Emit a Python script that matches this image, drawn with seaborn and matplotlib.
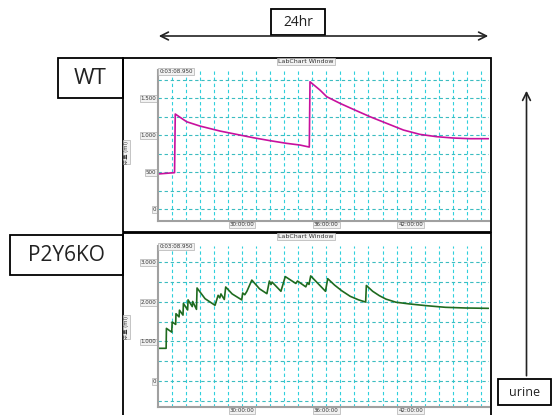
import pandas as pd
import matplotlib.pyplot as plt
import matplotlib.ticker as mticker
from matplotlib.patches import Rectangle
import seaborn as sns

# WT urine volume trace (hours, ml)
wt_hours = [24.0, 25.2, 25.25, 26.06, 27.0, 28.44, 29.62, 30.81, 32.0, 33.18, 34.13, 34.79,
            34.84, 35.55, 36.03, 36.98, 37.93, 39.11, 40.3, 41.49, 42.67, 43.86, 45.04, 46.23, 47.55]
wt_values = [477, 495, 1287, 1183, 1125, 1057, 1012, 967, 927, 891, 868, 841,
             1723, 1611, 1521, 1431, 1350, 1251, 1161, 1071, 1012, 981, 963, 954, 954]

# P2Y6KO urine volume trace (hours, ml)
ko_hours = [24.05, 24.6, 24.62, 25.0, 25.03, 25.28, 25.3, 25.52, 25.55, 25.8, 25.83, 26.13,
            26.16, 26.46, 26.49, 26.76, 26.8, 27.37, 28.08, 28.3, 28.42, 28.5, 28.74, 28.84,
            29.3, 29.98, 30.05, 30.2, 30.35, 30.7, 31.25, 31.77, 31.95, 32.07, 32.14, 32.77,
            33.08, 33.83, 33.95, 34.54, 34.66, 34.77, 34.89, 35.94, 36.1, 36.6, 37.1, 37.7,
            38.3, 38.8, 38.85, 39.3, 39.78, 40.25, 40.95, 41.9, 43.07, 44.48, 45.9, 47.55]
ko_values = [826, 826, 1330, 1235, 1490, 1430, 1700, 1620, 1790, 1665, 1960, 1795,
             2050, 1880, 2010, 1810, 2350, 2080, 1913, 2165, 2100, 2200, 2060, 2375,
             2200, 2050, 2224, 2180, 2267, 2550, 2328, 2207, 2526, 2440, 2500, 2267,
             2638, 2465, 2526, 2379, 2483, 2440, 2655, 2267, 2586, 2420, 2280, 2140,
             2050, 1995, 2414, 2267, 2155, 2069, 1991, 1948, 1905, 1862, 1845, 1836]

x_labels = ["30:00:00", "36:00:00", "42:00:00"]
x_label_pos = [30, 36, 42]

sns.set_theme(style="white")
plt.rcParams['font.family'] = ['DejaVu Sans', 'Noto Sans CJK JP']

W, H = 553, 415
fig = plt.figure(figsize=(W / 100, H / 100), dpi=100)


def px_axes(x0, y0, x1, y1):
    return fig.add_axes([x0 / W, 1 - y1 / H, (x1 - x0) / W, (y1 - y0) / H])


small_box = dict(boxstyle="square,pad=0.15", fc="#f2f2f2", ec="#b0b0b0", lw=0.5)

panels = [
    (px_axes(157.7, 70, 489, 221), wt_hours, wt_values, "#c8109e", (-158, 1882), 500, 250),
    (px_axes(157.7, 246, 489, 406.7), ko_hours, ko_values, "#1f6b1f", (-649, 3411), 1000, 500),
]

for ax, hrs, vals, color, ylim, major, minor in panels:
    df = pd.DataFrame({"hour": hrs, "volume": vals})
    sns.lineplot(data=df, x="hour", y="volume", ax=ax, color=color, lw=1.2,
                 estimator=None, sort=False)
    ax.set_xlim(24, 47.58)
    ax.set_ylim(*ylim)
    ax.set_xticks(x_label_pos)
    ax.set_xticklabels(x_labels)
    ax.set_xticks(range(25, 48), minor=True)
    ax.yaxis.set_major_locator(mticker.MultipleLocator(major))
    ax.yaxis.set_minor_locator(mticker.MultipleLocator(minor))
    ax.yaxis.set_major_formatter(mticker.FuncFormatter(
        lambda v, p: f"{v:,.0f}".replace(",", ".") if v >= 0 else ""))
    for which in ["major", "minor"]:
        ax.xaxis.grid(True, which=which, color="#2fd0dc", lw=0.8, ls=(0, (3, 2.5)))
        ax.yaxis.grid(True, which=which, color="#3cbcc0", lw=0.8, ls=(0, (3, 2.5)))
    ax.set_xlabel("")
    ax.set_ylabel("")
    ax.set_facecolor("white")
    for s in ["top", "right"]:
        ax.spines[s].set_visible(False)
    for s in ["left", "bottom"]:
        ax.spines[s].set_color("#a0a0a0")
        ax.spines[s].set_linewidth(1.5)
    ax.tick_params(which="both", length=0, labelsize=4, pad=1, colors="#333333")
    for lab in ax.get_xticklabels() + ax.get_yticklabels():
        lab.set_bbox(small_box)

# overlay in pixel coordinates for boxes, labels and arrows (drawn on top)
ov = fig.add_axes([0, 0, 1, 1])
ov.set_zorder(10)
ov.set_xlim(0, W)
ov.set_ylim(H, 0)
ov.axis("off")

box_kw = dict(fill=False, edgecolor="black", lw=1.3)
ov.add_patch(Rectangle((122.5, 58), 368.5, 174, **box_kw))
ov.add_patch(Rectangle((122.5, 232.5), 368.5, 190, **box_kw))
ov.add_patch(Rectangle((58, 58), 64.5, 40, **box_kw))
ov.add_patch(Rectangle((10, 235), 112.5, 39.5, **box_kw))
ov.add_patch(Rectangle((271, 9.5), 54, 26, **box_kw))
ov.add_patch(Rectangle((498, 378.5), 53, 26, **box_kw))

big = dict(family=["Open Sans", "DejaVu Sans"], ha="center", va="center", color="#222222")
ov.text(90, 79, "WT", fontsize=16, **big)
ov.text(66, 255.5, "P2Y6KO", fontsize=15, **big)
ov.text(298, 23, "24hr", fontsize=10, **big)
ov.text(524.5, 392, "urine", fontsize=9, **big)

ov.annotate("", xy=(491, 36), xytext=(156, 36),
            arrowprops=dict(arrowstyle="<->", lw=1.2, color="#222222", mutation_scale=14))
ov.annotate("", xy=(526.5, 88), xytext=(526.5, 378.5),
            arrowprops=dict(arrowstyle="->", lw=1.2, color="#222222", mutation_scale=14))

for ty in [61.5, 236.5]:
    ov.text(306, ty, "LabChart Window", fontsize=4.5, ha="center", va="center",
            bbox=small_box, color="#333333")
for ty in [71.5, 246.5]:
    ov.text(176, ty, "0:03:08.950", fontsize=4, ha="center", va="center",
            bbox=small_box, color="#333333")
for ty in [152, 327]:
    ov.text(126.5, ty, "尿量 (ml)", fontsize=3.8, ha="center", va="center", rotation=90,
            bbox=small_box, color="#333333")

fig.savefig("out.png", dpi=100)
